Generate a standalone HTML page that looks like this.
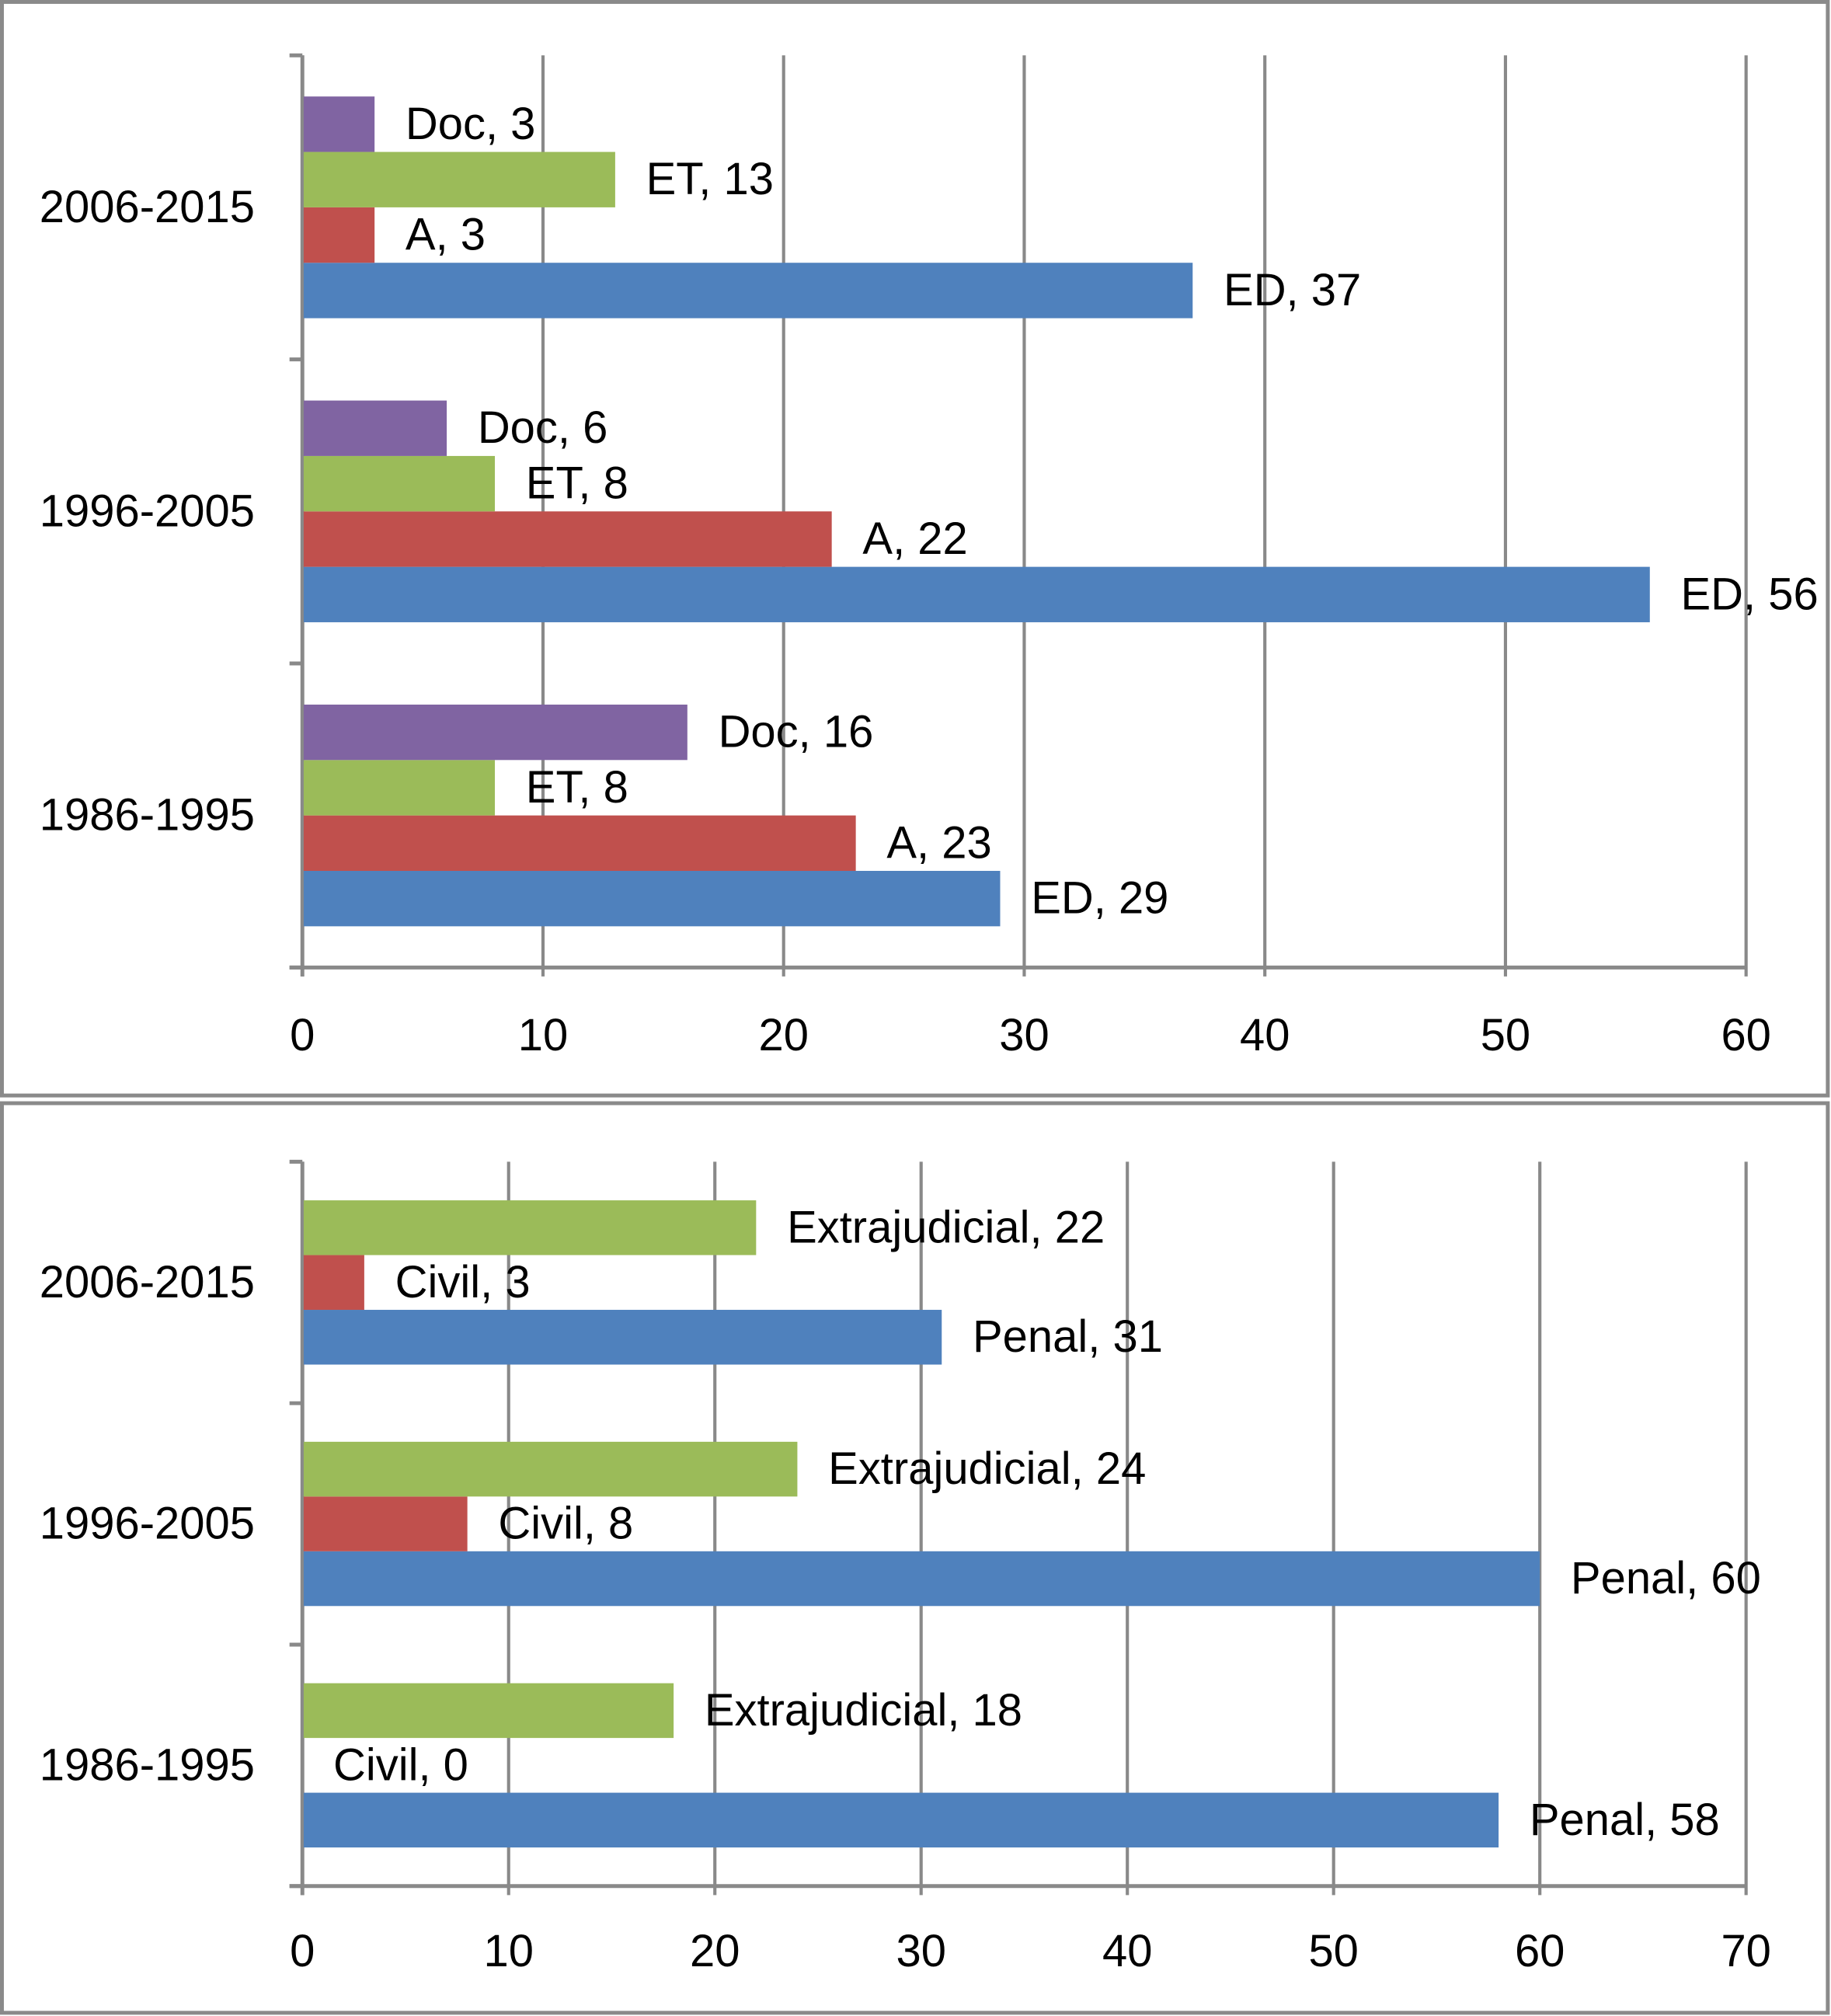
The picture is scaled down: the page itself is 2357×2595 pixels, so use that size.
<!DOCTYPE html>
<html><head><meta charset="utf-8"><style>
html,body{margin:0;padding:0;background:#fff;}
svg{display:block;}
text{font-family:"Liberation Sans",sans-serif;fill:#000;}
</style></head><body>
<svg id="chart" width="2357" height="2595" viewBox="0 0 1423 1567" preserveAspectRatio="none" xmlns="http://www.w3.org/2000/svg">
<rect x="1.5" y="1.5" width="1419" height="850" fill="#fff" stroke="#8a8a8a" stroke-width="3"/>
<rect x="1.5" y="857.5" width="1419" height="707" fill="#fff" stroke="#8a8a8a" stroke-width="3"/>
<g id="top"></g>
<g id="bottom"></g>
</svg>
<script>
const categories = ["1986-1995", "1996-2005", "2006-2015"];
const topSeriesNames = ["ED", "A", "ET", "Doc"];
const topED = [29, 56, 37];
const topA = [23, 22, 3];
const topET = [8, 8, 13];
const topDoc = [16, 6, 3];
const topTicks = [0, 10, 20, 30, 40, 50, 60];
const botSeriesNames = ["Penal", "Civil", "Extrajudicial"];
const botPenal = [58, 60, 31];
const botCivil = [0, 8, 3];
const botExtra = [18, 24, 22];
const botTicks = [0, 10, 20, 30, 40, 50, 60, 70];
const colors = ["#4F81BD", "#C0504D", "#9BBB59", "#8064A2"];

const NS = "http://www.w3.org/2000/svg";
const FS = 35;
function mk(parent, tag, attrs, txt) {
  const e = document.createElementNS(NS, tag);
  for (const k in attrs) e.setAttribute(k, attrs[k]);
  if (txt !== undefined) e.textContent = txt;
  parent.appendChild(e);
  return e;
}

function drawChart(g, cfg) {
  const {x0, x1, y0, y1, max, ticks, series, names, gap} = cfg;
  const xs = v => x0 + (v / max) * (x1 - x0);
  const band = (y1 - y0) / categories.length;
  const grey = "#898989";
  ticks.forEach(t => {
    const gl = mk(g, "line", {x1: xs(t), x2: xs(t), y1: y0, y2: y1 + 7, stroke: grey, "stroke-width": 2.5});
    
    
    const tl = mk(g, "text", {x: xs(t), y: cfg.tickY, "text-anchor": "middle", "font-size": FS, "dominant-baseline": "central"}, String(t));
    
    
  });
  const ya = mk(g, "line", {x1: x0, x2: x0, y1: y0, y2: y1 + 7, stroke: grey, "stroke-width": 3});
  
  
  const xa = mk(g, "line", {x1: x0 - 10, x2: x1, y1: y1, y2: y1, stroke: grey, "stroke-width": 3});
  
  
  for (let i = 0; i <= categories.length; i++) {
    const tk = mk(g, "line", {x1: x0 - 10, x2: x0, y1: y0 + i * band, y2: y0 + i * band, stroke: grey, "stroke-width": 3});
    
    
  }
  const n = series.length;
  const bh = (band - 2 * gap) / n;
  categories.forEach((c, ci) => {
    const bandTop = y1 - (ci + 1) * band;
    const cl = mk(g, "text", {x: 198, y: bandTop + band / 2, "text-anchor": "end", "font-size": FS, "dominant-baseline": "central"}, c);
    
    
    series.forEach((s, si) => {
      const v = s[ci];
      const yb = bandTop + band - gap - (si + 1) * bh;
      if (v > 0) {
        const r = mk(g, "rect", {x: x0 + 1, y: yb, width: xs(v) - x0 - 1, height: bh, fill: colors[si]});
        
        
      }
      const lb = mk(g, "text", {x: xs(v) + 24, y: yb + bh / 2, "font-size": FS, "dominant-baseline": "central"}, names[si] + ", " + v);
      
      
    });
  });
}

drawChart(document.getElementById("top"), {
  x0: 235, x1: 1357, y0: 43, y1: 752, max: 60, ticks: topTicks, tickY: 805, gap: 32,
  series: [topED, topA, topET, topDoc], names: topSeriesNames
});
drawChart(document.getElementById("bottom"), {
  x0: 235, x1: 1357, y0: 903, y1: 1466, max: 70, ticks: botTicks, tickY: 1517, gap: 30,
  series: [botPenal, botCivil, botExtra], names: botSeriesNames
});
</script>
</body></html>
